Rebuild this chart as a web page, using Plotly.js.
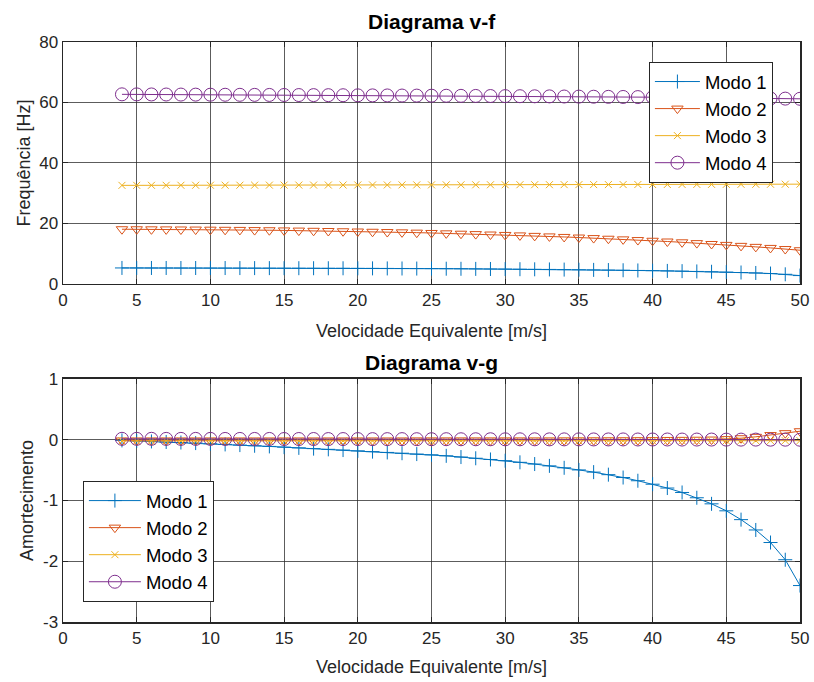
<!DOCTYPE html>
<html>
<head>
<meta charset="utf-8">
<script src="https://cdn.plot.ly/plotly-3.0.1.min.js"></script>
<style>html,body{margin:0;padding:0;background:#fff;}#chart{width:814px;height:682px;}</style>
</head>
<body>
<div id="chart"></div>
<script>
const velocidade = [4,5,6,7,8,9,10,11,12,13,14,15,16,17,18,19,20,21,22,23,24,25,26,27,28,29,30,31,32,33,34,35,36,37,38,39,40,41,42,43,44,45,46,47,48,49,50];

const freqModo1 = [5.30,5.30,5.29,5.29,5.28,5.28,5.27,5.27,5.26,5.25,
  5.24,5.23,5.22,5.21,5.20,5.19,5.17,5.16,5.14,5.12,
  5.10,5.08,5.05,5.02,4.99,4.96,4.93,4.89,4.85,4.81,
  4.76,4.71,4.66,4.60,4.54,4.47,4.40,4.32,4.24,4.14,
  4.04,3.92,3.79,3.64,3.45,3.20,2.78];
const freqModo2 = [18.10,18.09,18.07,18.05,18.02,17.99,17.95,17.91,17.87,17.82,
  17.77,17.71,17.65,17.58,17.51,17.43,17.35,17.26,17.17,17.07,
  16.97,16.86,16.74,16.62,16.49,16.35,16.21,16.06,15.90,15.73,
  15.55,15.36,15.17,14.96,14.75,14.52,14.29,14.04,13.78,13.51,
  13.22,12.92,12.60,12.27,11.92,11.55,11.16];
const freqModo3 = [32.60,32.61,32.62,32.62,32.63,32.64,32.65,32.66,32.66,32.67,
  32.68,32.69,32.70,32.70,32.71,32.72,32.73,32.74,32.74,32.75,
  32.76,32.77,32.78,32.78,32.79,32.80,32.81,32.82,32.82,32.83,
  32.84,32.85,32.86,32.86,32.87,32.88,32.89,32.90,32.91,32.92,
  32.93,32.94,32.95,32.96,32.97,32.98,33.00];
const freqModo4 = [62.70,62.68,62.66,62.64,62.62,62.60,62.58,62.56,62.54,62.52,
  62.50,62.48,62.46,62.44,62.42,62.40,62.37,62.35,62.33,62.30,
  62.28,62.25,62.23,62.20,62.17,62.14,62.11,62.08,62.05,62.02,
  61.98,61.95,61.91,61.87,61.83,61.79,61.75,61.70,61.66,61.61,
  61.56,61.51,61.46,61.40,61.34,61.28,61.22];

const amortModo1 = [-0.011,-0.020,-0.028,-0.037,-0.046,-0.055,-0.066,-0.077,-0.088,-0.099,
  -0.110,-0.122,-0.134,-0.146,-0.158,-0.170,-0.183,-0.196,-0.209,-0.222,
  -0.236,-0.248,-0.265,-0.285,-0.305,-0.325,-0.345,-0.372,-0.400,-0.430,
  -0.462,-0.497,-0.533,-0.575,-0.622,-0.675,-0.732,-0.795,-0.868,-0.955,
  -1.055,-1.170,-1.315,-1.485,-1.692,-1.975,-2.400];
const amortModo2 = [-0.012,-0.012,-0.012,-0.012,-0.012,-0.012,-0.012,-0.012,-0.012,-0.012,
  -0.012,-0.012,-0.012,-0.012,-0.012,-0.012,-0.012,-0.012,-0.012,-0.012,
  -0.011,-0.011,-0.011,-0.011,-0.011,-0.011,-0.011,-0.011,-0.011,-0.011,
  -0.010,-0.010,-0.009,-0.009,-0.008,-0.007,-0.006,-0.004,-0.002,0.000,
  0.003,0.010,0.025,0.048,0.077,0.108,0.140];
const amortModo3 = [-0.020,-0.020,-0.020,-0.020,-0.020,-0.020,-0.020,-0.020,-0.020,-0.020,
  -0.020,-0.020,-0.020,-0.020,-0.020,-0.020,-0.020,-0.020,-0.020,-0.020,
  -0.019,-0.019,-0.019,-0.019,-0.019,-0.019,-0.019,-0.019,-0.019,-0.019,
  -0.018,-0.018,-0.018,-0.018,-0.018,-0.017,-0.017,-0.017,-0.017,-0.016,
  -0.016,-0.016,-0.016,-0.015,-0.015,-0.015,-0.015];
const amortModo4 = [0.015,0.015,0.015,0.014,0.014,0.014,0.014,0.013,0.013,0.013,
  0.013,0.012,0.012,0.012,0.011,0.011,0.011,0.010,0.010,0.010,
  0.009,0.009,0.009,0.008,0.008,0.008,0.007,0.007,0.007,0.006,
  0.006,0.006,0.005,0.005,0.005,0.004,0.004,0.004,0.003,0.003,
  0.003,0.002,0.002,0.002,0.001,0.001,0.000];

const xTickVals = [0,5,10,15,20,25,30,35,40,45,50];
const xTickText = ['0','5','10','15','20','25','30','35','40','45','50'];
const yFreqTickVals = [0,20,40,60,80];
const yFreqTickText = ['0','20','40','60','80'];
const yAmortTickVals = [-3,-2,-1,0,1];
const yAmortTickText = ['-3','-2','-1','0','1'];

const nomes = ['Modo 1','Modo 2','Modo 3','Modo 4'];
const cores = ['#0072BD','#D95319','#EDB120','#7E2F8E'];
const simbolos = ['cross-thin','triangle-down-open','x-thin','circle-open'];
const tamanhos = [10,10,7,13];

const freqs = [freqModo1,freqModo2,freqModo3,freqModo4];
const amorts = [amortModo1,amortModo2,amortModo3,amortModo4];

const traces = [];
for (let i = 0; i < 4; i++) {
  const mk = {symbol: simbolos[i], size: tamanhos[i], color: cores[i], line: {color: cores[i], width: 1}};
  traces.push({x: velocidade, y: freqs[i], name: nomes[i], mode: 'lines+markers', xaxis: 'x', yaxis: 'y',
    line: {color: cores[i], width: 1}, marker: mk, legend: 'legend', hoverinfo: 'skip'});
}
for (let i = 0; i < 4; i++) {
  const mk = {symbol: simbolos[i], size: tamanhos[i], color: cores[i], line: {color: cores[i], width: 1}};
  traces.push({x: velocidade, y: amorts[i], name: nomes[i], mode: 'lines+markers', xaxis: 'x2', yaxis: 'y2',
    line: {color: cores[i], width: 1}, marker: mk, legend: 'legend2', hoverinfo: 'skip'});
}

const fam = 'Liberation Sans, Arial, Helvetica, sans-serif';
const titleFont = {family: fam, size: 18, color: '#262626'};
const axisBase = {
  showline: true, linecolor: '#262626', linewidth: 1.5, mirror: 'allticks',
  ticks: 'inside', ticklen: 5, tickcolor: '#262626', tickwidth: 1,
  showgrid: true, gridcolor: 'rgba(38,38,38,0.75)', gridwidth: 1,
  zeroline: false, tickfont: {family: fam, size: 17, color: '#262626'}, tickmode: 'array'
};

const layout = {
  width: 814, height: 682,
  margin: {l: 63, r: 14, t: 42, b: 60},
  paper_bgcolor: '#ffffff', plot_bgcolor: '#ffffff',
  font: {family: fam, color: '#262626'},
  showlegend: true,
  xaxis: Object.assign({}, axisBase, {domain: [0,1], anchor: 'y', range: [0,50], tickvals: xTickVals, ticktext: xTickText,
    title: {text: 'Velocidade Equivalente [m/s]', font: titleFont, standoff: 15}}),
  yaxis: Object.assign({}, axisBase, {domain: [0.5828,1], anchor: 'x', range: [0,80], tickvals: yFreqTickVals, ticktext: yFreqTickText,
    title: {text: 'Frequência [Hz]', font: titleFont, standoff: 4}}),
  xaxis2: Object.assign({}, axisBase, {domain: [0,1], anchor: 'y2', range: [0,50], tickvals: xTickVals, ticktext: xTickText,
    title: {text: 'Velocidade Equivalente [m/s]', font: titleFont, standoff: 13}}),
  yaxis2: Object.assign({}, axisBase, {domain: [0,0.419], anchor: 'x2', range: [-3,1], tickvals: yAmortTickVals, ticktext: yAmortTickText,
    title: {text: 'Amortecimento', font: titleFont, standoff: 4}}),
  legend: {x: 0.795, y: 0.9655, xanchor: 'left', yanchor: 'top', bgcolor: '#ffffff',
    bordercolor: '#262626', borderwidth: 1, font: {family: fam, size: 18.5, color: '#000000'}, itemwidth: 45,
    tracegroupgap: 0},
  legend2: {x: 0.027, y: 0.243, xanchor: 'left', yanchor: 'top', bgcolor: '#ffffff',
    bordercolor: '#262626', borderwidth: 1, font: {family: fam, size: 18.5, color: '#000000'}, itemwidth: 52,
    tracegroupgap: 0},
  annotations: [
    {text: '<b>Diagrama v-f</b>', xref: 'paper', yref: 'paper', x: 0.5, y: 1, yshift: 7, xanchor: 'center', yanchor: 'bottom',
      showarrow: false, font: {family: fam, size: 21, color: '#000000'}},
    {text: '<b>Diagrama v-g</b>', xref: 'paper', yref: 'paper', x: 0.5, y: 0.419, yshift: 3, xanchor: 'center', yanchor: 'bottom',
      showarrow: false, font: {family: fam, size: 21, color: '#000000'}}
  ]
};

Plotly.newPlot('chart', traces, layout, {displayModeBar: false, staticPlot: true});
</script>
</body>
</html>
